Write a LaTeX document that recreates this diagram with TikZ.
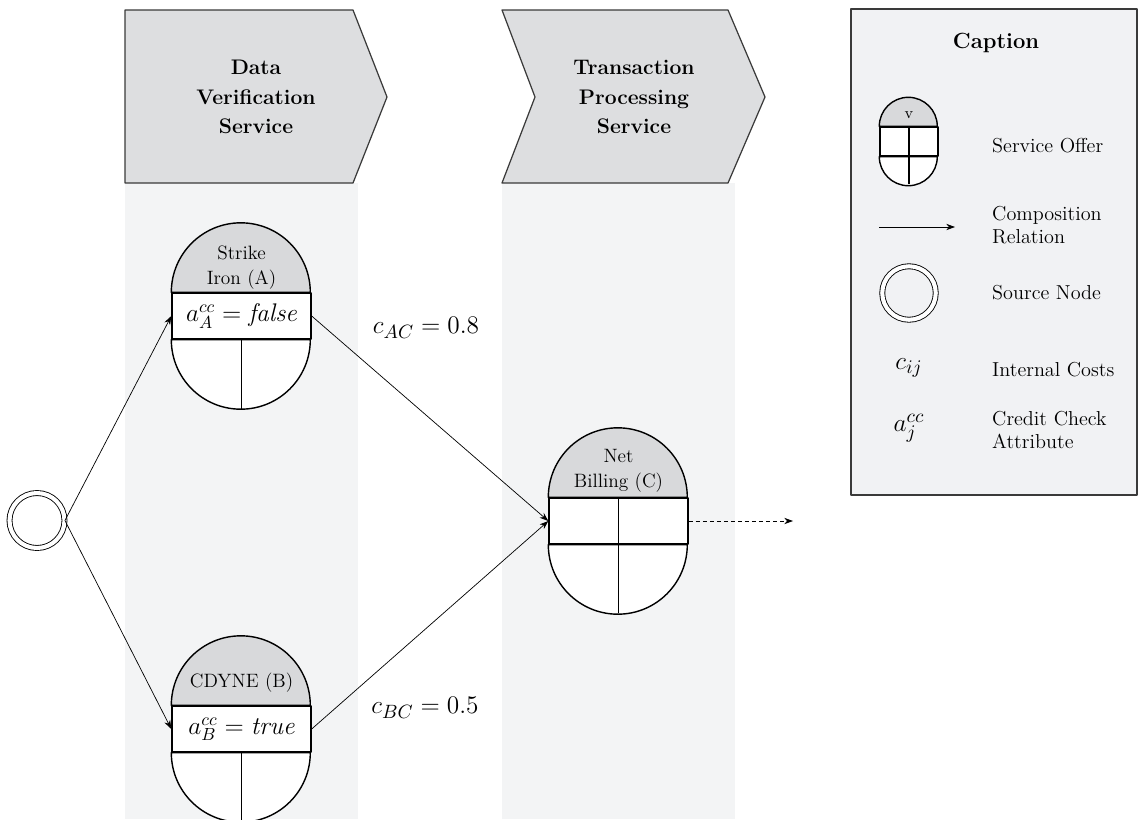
\documentclass[tikz,border=0pt]{standalone}
\usetikzlibrary{arrows.meta,positioning}

\definecolor{lanegrey}{HTML}{F3F4F5}
\definecolor{headgrey}{HTML}{DDDEE0}
\definecolor{capgrey}{HTML}{D8D9DB}
\definecolor{boxgrey}{HTML}{F1F2F4}
\definecolor{edgegrey}{HTML}{3A3A3A}

\tikzset{
  lane/.style={fill=lanegrey, draw=none},
  head/.style={fill=headgrey, draw=edgegrey, line width=0.7pt},
  headtext/.style={font=\bfseries\fontsize{12}{16.8}\selectfont, align=center},
  row/.style={draw, fill=white, line width=0.8pt, minimum width=2.78cm, minimum height=0.92cm, inner sep=0pt, font=\fontsize{14.5}{16}\selectfont},
  offertext/.style={font=\fontsize{11}{14.2}\selectfont, align=center},
  flow/.style={->, line width=0.4pt},
  cost/.style={font=\fontsize{15}{17}\selectfont},
  legtext/.style={anchor=west, align=left, font=\fontsize{11.5}{12.8}\selectfont},
  source/.style={circle, draw, double, double distance=0.082cm, line width=0.5pt, minimum size=1.1cm, inner sep=0pt}
}

% caps of a service offer round its middle row
\newcommand{\offershell}[2]{%
  \filldraw[fill=capgrey, line width=0.8pt] (#1.north west) arc[start angle=180, end angle=0, radius=#2] -- cycle;
  \filldraw[fill=white, line width=0.8pt] (#1.south west) arc[start angle=180, end angle=360, radius=#2] -- cycle;
}

\begin{document}
\begin{tikzpicture}[x=0.02cm, y=-0.02cm, line join=round, >={Stealth[length=5pt,width=3.6pt]}]
	\useasboundingbox (0,0) rectangle (1139,819);
	% lanes and headers
	\fill[lane] (125,183) rectangle (358,819);
	\fill[lane] (502,183) rectangle (735,819);
	\filldraw[head] (125,10) -- (353,10) -- (387,97) -- (353,183) -- (125,183) -- cycle;
	\filldraw[head] (502,10) -- (728,10) -- (765,97) -- (728,183) -- (502,183) -- (535,97) -- cycle;
	\node[headtext] (dvs) at (256,97) {Data\\Verification\\Service};
	\node[headtext] (tps) at (634,97) {Transaction\\Processing\\Service};

	% caption box
	\filldraw[fill=boxgrey, draw=edgegrey, line width=0.8pt] (851,9) rectangle (1137,495);
	\node[font=\bfseries\fontsize{12.5}{15}\selectfont] (cap) at (996,43) {Caption};

	% offers
	\node[row] (A) at (241.5,316) {$a^{cc}_{A} = \textit{false}$};
	\offershell{A}{1.39cm}
	\draw[line width=0.8pt] (A.south) -- ++(0,69.5);
	\node[offertext] (Alab) at ([yshift=0.5cm]A.north) {Strike\\Iron (A)};

	\node[row] (B) at (241.5,729) {$a^{cc}_{B} = \textit{true}$};
	\offershell{B}{1.39cm}
	\draw[line width=0.8pt] (B.south) -- ++(0,69.5);
	\node[offertext] (Blab) at ([yshift=0.46cm]B.north) {CDYNE (B)};

	\node[row] (C) at (618.5,521) {};
	\offershell{C}{1.39cm}
	\draw[line width=0.8pt] (C.north) -- ++(0,115.5);
	\node[offertext] (Clab) at ([yshift=0.53cm]C.north) {Net\\Billing (C)};

	\node[source] (S) at (37,520.5) {};

	% composition relations
	\draw[flow] (S.east) -- (A.west);
	\draw[flow] (S.east) -- (B.west);
	\draw[flow] (A.east) -- (C.west);
	\draw[flow] (B.east) -- (C.west);
	\coordinate (out) at (793,521);
	\draw[flow, dash pattern=on 2.5pt off 1.5pt] (C.east) -- (out);

	\node[cost] (cac) at (426,328) {$c_{AC} = 0.8$};
	\node[cost] (cbc) at (425,708) {$c_{BC} = 0.5$};

	% legend
	\node[row, minimum width=1.16cm, minimum height=0.58cm] (K) at (909,141.5) {};
	\offershell{K}{0.58cm}
	\draw[line width=0.8pt] (K.north) -- ++(0,58);
	\node[font=\small] (Klab) at ([yshift=0.22cm]K.north) {v};
	\node[legtext] (t1) at (986,146) {Service Offer};

	\coordinate (k1) at (879,227);
	\coordinate (k2) at (955,227);
	\draw[flow] (k1) -- (k2);
	\node[legtext] (t2) at (986,225) {Composition\\Relation};

	\node[source, minimum size=1.07cm] (K2) at (909,293) {};
	\node[legtext] (t3) at (986,293) {Source Node};

	\node[cost] (cij) at (909,368) {$c_{ij}$};
	\node[legtext] (t4) at (986,370) {Internal Costs};

	\node[cost] (aj) at (909,428) {$a^{cc}_{j}$};
	\node[legtext] (t5) at (986,430) {Credit Check\\Attribute};
\end{tikzpicture}
\end{document}
